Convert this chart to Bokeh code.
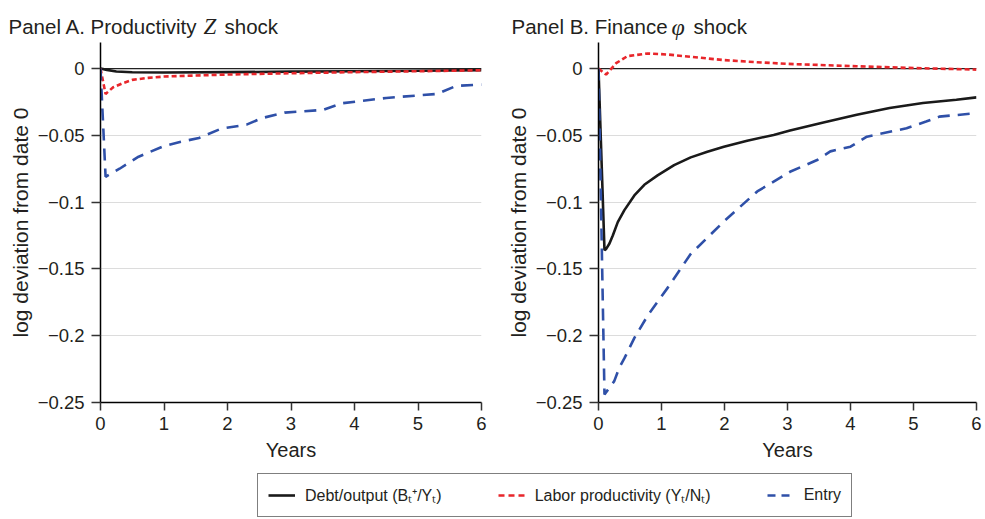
from bokeh.plotting import figure
from bokeh.models import Range1d, FixedTicker, Span, Label, Legend, LegendItem
from bokeh.layouts import column, row
from bokeh.embed import file_html
from bokeh.resources import INLINE

# ---------------- data ----------------
# Panel A: productivity Z shock
a_debt_t = [0, 0.1, 0.25, 0.5, 1.0, 2.0, 3.0, 4.0, 5.0, 6.0]
a_debt_y = [0, -0.001, -0.0022, -0.0028, -0.003, -0.0027, -0.0023, -0.002, -0.0016, -0.0012]

a_prod_t = [0, 0.08, 0.2, 0.35, 0.5, 0.75, 1.0, 1.5, 2.0, 3.0, 4.0, 5.0, 6.0]
a_prod_y = [0, -0.019, -0.014, -0.011, -0.0085, -0.007, -0.006, -0.0052, -0.0045, -0.0035, -0.0027, -0.002, -0.0013]

a_entry_t = [0, 0.08, 0.3, 0.6, 1.0, 1.25, 1.55, 1.9, 2.3, 2.55, 2.9, 3.5, 3.8, 4.5, 5.3, 5.6, 6.0]
a_entry_y = [0, -0.081, -0.075, -0.066, -0.058, -0.055, -0.052, -0.045, -0.042, -0.037, -0.033, -0.031,
             -0.026, -0.022, -0.019, -0.013, -0.012]

# Panel B: finance phi shock
b_debt_t = [0, 0.095, 0.122, 0.174, 0.227, 0.306, 0.411, 0.569, 0.727, 0.938, 1.2, 1.464, 1.728, 1.99,
            2.36, 2.78, 3.04, 3.57, 4.1, 4.62, 5.15, 5.68, 6.0]
b_debt_y = [0, -0.136, -0.135, -0.131, -0.125, -0.115, -0.106, -0.095, -0.087, -0.080, -0.0723, -0.0665,
            -0.0623, -0.0585, -0.054, -0.0497, -0.0464, -0.0404, -0.0346, -0.0296, -0.0258, -0.0233, -0.0216]

b_prod_t = [0, 0.12, 0.28, 0.46, 0.78, 1.1, 1.46, 2.0, 2.5, 3.0, 4.1, 4.9, 6.0]
b_prod_y = [0, -0.0045, 0.004, 0.0093, 0.0113, 0.0105, 0.0088, 0.0063, 0.0048, 0.0035, 0.0017, 0.0005, -0.0008]

b_entry_t = [0, 0.095, 0.25, 0.33, 0.41, 0.57, 0.78, 1.1, 1.46, 2.0, 2.52, 3.04, 3.47, 3.68, 4.0, 4.26,
             4.89, 5.2, 5.41, 6.0]
b_entry_y = [0, -0.244, -0.234, -0.224, -0.217, -0.2016, -0.185, -0.164, -0.139, -0.114, -0.092, -0.0773,
             -0.0685, -0.062, -0.0585, -0.051, -0.0447, -0.0397, -0.036, -0.0334]

y_ticks = [0, -0.05, -0.1, -0.15, -0.2, -0.25]
y_tick_labels = ["0", "\u22120.05", "\u22120.1", "\u22120.15", "\u22120.2", "\u22120.25"]
x_ticks = [0, 1, 2, 3, 4, 5, 6]

series_names = ["Debt/output (B\u209c\u207a/Y\u209c)",
                "Labor productivity (Y\u209c/N\u209c)",
                "Entry"]

FONT = "Liberation Sans"
SERIF = "Liberation Serif"
TXT = "#231f20"
BLACK = "#1a1a1a"
RED = "#e8262b"
BLUE = "#2f50a8"


def make_panel(width, border_left, border_right, debt, prod, entry):
    p = figure(width=width, height=428, x_range=Range1d(0, 6), y_range=Range1d(-0.25, 0.0195),
               output_backend="svg", toolbar_location=None,
               min_border_left=border_left, min_border_right=border_right,
               min_border_top=0, min_border_bottom=68)
    p.outline_line_color = None
    p.background_fill_color = "white"
    p.xgrid.grid_line_color = None
    p.ygrid.ticker = FixedTicker(ticks=y_ticks)
    p.ygrid.grid_line_color = "#dcdcdc"
    p.ygrid.grid_line_width = 1

    p.add_layout(Span(location=0, dimension="width", line_color="#222222", line_width=1.2,
                      level="underlay"))

    for ax in (p.xaxis[0], p.yaxis[0]):
        ax.axis_line_color = "black"
        ax.axis_line_width = 1.5
        ax.major_tick_line_color = "#333333"
        ax.major_tick_line_width = 1.5
        ax.major_tick_in = 0
        ax.minor_tick_line_color = None
        ax.major_label_text_font = FONT
        ax.major_label_text_font_size = "18.5px"
        ax.major_label_text_color = TXT
        ax.axis_label_text_font = FONT
        ax.axis_label_text_font_style = "normal"
        ax.axis_label_text_color = TXT

    p.xaxis.ticker = FixedTicker(ticks=x_ticks)
    p.xaxis.major_tick_out = 8
    p.xaxis.major_label_standoff = 6
    p.xaxis.axis_label = "Years"
    p.xaxis.axis_label_text_font_size = "20px"
    p.xaxis.axis_label_standoff = 6

    p.yaxis.ticker = FixedTicker(ticks=y_ticks)
    p.yaxis.major_label_overrides = dict(zip(y_ticks, y_tick_labels))
    p.yaxis.major_tick_out = 9
    p.yaxis.major_label_standoff = 7
    p.yaxis.axis_label = "log deviation from date 0"
    p.yaxis.axis_label_text_font_size = "21px"
    p.yaxis.axis_label_standoff = 3

    p.line(debt[0], debt[1], line_color=BLACK, line_width=2.6)
    p.line(prod[0], prod[1], line_color=RED, line_width=2.6, line_dash="5 3")
    p.line(entry[0], entry[1], line_color=BLUE, line_width=2.6, line_dash="12 8")
    return p


def make_title(width, parts):
    t = figure(width=width, height=42, x_range=Range1d(0, 1), y_range=Range1d(0, 1),
               output_backend="svg", toolbar_location=None,
               min_border_left=0, min_border_right=0, min_border_top=0, min_border_bottom=0)
    t.axis.visible = False
    t.grid.visible = False
    t.outline_line_color = None
    for (txt, xoff, font, style, size) in parts:
        t.add_layout(Label(x=xoff, y=16, x_units="screen", y_units="screen", text=txt,
                           text_font=font, text_font_style=style, text_font_size=size,
                           text_color=TXT, text_baseline="alphabetic", text_align="left"))
    return t


WA, WB = 496, 488

ta = make_title(WA, [("Panel A. Productivity", 8, FONT, "normal", "20.5px"),
                     ("Z", 203, SERIF, "italic", "23px"),
                     ("shock", 224, FONT, "normal", "20.5px")])
tb = make_title(WB, [("Panel B. Finance", 15, FONT, "normal", "20.5px"),
                     ("\u03c6", 175, SERIF, "italic", "24px"),
                     ("shock", 197, FONT, "normal", "20.5px")])

pa = make_panel(WA, 100, 15, (a_debt_t, a_debt_y), (a_prod_t, a_prod_y), (a_entry_t, a_entry_y))
pb = make_panel(WB, 102, 8, (b_debt_t, b_debt_y), (b_prod_t, b_prod_y), (b_entry_t, b_entry_y))

# legend strip: the series are drawn out of view so that only the legend shows
pl = figure(width=WA + WB, height=48, x_range=Range1d(0, 6), y_range=Range1d(10, 11),
            output_backend="svg", toolbar_location=None,
            min_border_left=0, min_border_right=0, min_border_top=0, min_border_bottom=0)
pl.axis.visible = False
pl.grid.visible = False
pl.outline_line_color = None
r1 = pl.line(a_debt_t, a_debt_y, line_color=BLACK, line_width=2.6)
r2 = pl.line(a_prod_t, a_prod_y, line_color=RED, line_width=2.6, line_dash="6 4")
r3 = pl.line(a_entry_t, a_entry_y, line_color=BLUE, line_width=2.6, line_dash="8 6")
legend = Legend(items=[LegendItem(label=series_names[0], renderers=[r1]),
                       LegendItem(label=series_names[1], renderers=[r2]),
                       LegendItem(label=series_names[2], renderers=[r3])],
                orientation="horizontal", location=(257, 1),
                label_text_font=FONT, label_text_font_size="16px", label_text_color=TXT,
                glyph_width=27, glyph_height=18, label_height=18, label_standoff=10,
                spacing=56, padding=10, margin=0,
                border_line_color="black", border_line_width=1, background_fill_color="white")
pl.add_layout(legend, "center")

layout = column(row(ta, tb, spacing=0), row(pa, pb, spacing=0), pl, spacing=0)

with open("out.html", "w") as f:
    f.write(file_html(layout, INLINE))
